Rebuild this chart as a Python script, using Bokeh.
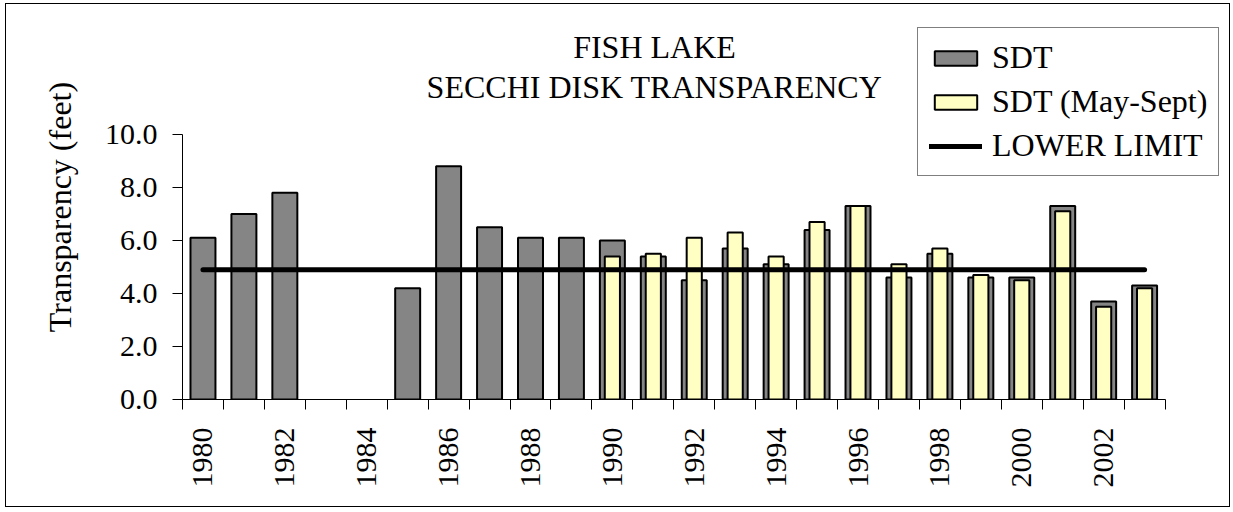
import numpy as np
from bokeh.plotting import figure
from bokeh.models import (ColumnDataSource, Range1d, FixedTicker, NumeralTickFormatter,
                          BasicTickFormatter, Legend, LegendItem, Label)
from bokeh.embed import file_html
from bokeh.resources import INLINE

# ---------------- data ----------------
years = list(range(1980, 2004))
sdt = [6.1, 7.0, 7.8, None, None, 4.2, 8.8, 6.5, 6.1, 6.1,
       6.0, 5.4, 4.5, 5.7, 5.1, 6.4, 7.3, 4.6, 5.5, 4.6,
       4.6, 7.3, 3.7, 4.3]
sdt_may_sept = [None, None, None, None, None, None, None, None, None, None,
                5.4, 5.5, 6.1, 6.3, 5.4, 6.7, 7.3, 5.1, 5.7, 4.7,
                4.5, 7.1, 3.5, 4.2]
lower_limit = 4.9
title_lines = ["FISH LAKE", "SECCHI DISK TRANSPARENCY"]
series_names = ["SDT", "SDT (May-Sept)", "LOWER LIMIT"]
y_axis_title = "Transparency (feet)"
y_ticks = [0, 2, 4, 6, 8, 10]
x_label_years = [y for y in years if y % 2 == 0]

FONT = "Liberation Serif"

# ---------------- layout (pixels) ----------------
W, H = 1225, 504
MB_LEFT, MB_RIGHT, MB_TOP, MB_BOTTOM = 176, 4, 10, 109
PX_PER_YEAR = 40.94
PX_PER_FOOT = 26.5
frame_w = W - MB_LEFT - MB_RIGHT
frame_h = H - MB_TOP - MB_BOTTOM
x0 = years[0] - 0.5
x_end = x0 + frame_w / PX_PER_YEAR
y_end = frame_h / PX_PER_FOOT

src_sdt = ColumnDataSource(dict(
    x=[y for y, v in zip(years, sdt) if v is not None],
    top=[v for v in sdt if v is not None]))
src_ms = ColumnDataSource(dict(
    x=[y for y, v in zip(years, sdt_may_sept) if v is not None],
    top=[v for v in sdt_may_sept if v is not None]))
src_ll = ColumnDataSource(dict(x=[years[0], years[-1]], y=[lower_limit, lower_limit]))

p = figure(width=W, height=H, output_backend="svg", toolbar_location=None,
           x_range=Range1d(x0, x_end), y_range=Range1d(0, y_end),
           min_border_left=MB_LEFT, min_border_right=MB_RIGHT, min_border_top=MB_TOP,
           min_border_bottom=MB_BOTTOM, background_fill_color="white",
           border_fill_color="white", outline_line_color=None)
p.styles = {"border": "1px solid black", "margin": "3px 0 0 5px"}

r_sdt = p.vbar(x="x", top="top", width=0.61, source=src_sdt, fill_color="#858585",
               line_color="black", line_width=2)
r_ms = p.vbar(x="x", top="top", width=0.37, source=src_ms, fill_color="#FFFFC4",
              line_color="black", line_width=2)
r_ll = p.line(x="x", y="y", source=src_ll, line_color="black", line_width=5,
              line_cap="round")

p.xgrid.visible = False
p.ygrid.visible = False

# x axis
boundaries = [y - 0.5 for y in years] + [years[-1] + 0.5]
p.xaxis.bounds = (boundaries[0], boundaries[-1])
p.xaxis.ticker = FixedTicker(ticks=x_label_years, minor_ticks=boundaries)
p.xaxis.formatter = BasicTickFormatter(use_scientific=False)
p.xaxis.major_label_orientation = np.pi / 2
p.xaxis.major_tick_out = 0
p.xaxis.major_tick_in = 0
p.xaxis.minor_tick_out = 10
p.xaxis.minor_tick_in = 0
p.xaxis.minor_tick_line_color = "black"
p.xaxis.axis_line_color = "black"
p.xaxis.major_label_standoff = 18
p.xaxis.major_label_text_font = FONT
p.xaxis.major_label_text_font_size = "30px"
p.xaxis.major_label_text_color = "black"

# y axis
p.yaxis.bounds = (y_ticks[0], y_ticks[-1])
p.yaxis.ticker = FixedTicker(ticks=y_ticks, minor_ticks=[])
p.yaxis.formatter = NumeralTickFormatter(format="0.0")
p.yaxis.major_tick_out = 10
p.yaxis.major_tick_in = 0
p.yaxis.minor_tick_out = 0
p.yaxis.minor_tick_in = 0
p.yaxis.major_tick_line_color = "black"
p.yaxis.axis_line_color = "black"
p.yaxis.major_label_standoff = 15
p.yaxis.major_label_text_font = FONT
p.yaxis.major_label_text_font_size = "30px"
p.yaxis.major_label_text_color = "black"
p.yaxis.axis_label = y_axis_title
p.yaxis.axis_label_text_font = FONT
p.yaxis.axis_label_text_font_size = "32px"
p.yaxis.axis_label_text_font_style = "normal"
p.yaxis.axis_label_text_color = "black"
p.yaxis.axis_label_standoff = 24

# titles (placed with the data scales so they sit above the plot area)
title_x = x0 + (654 - 182) / PX_PER_YEAR
p.add_layout(Label(x=title_x, y=(399 - 46) / PX_PER_FOOT, text=title_lines[0],
                   text_align="center", text_baseline="alphabetic", text_font=FONT,
                   text_font_size="32px", text_color="black"))
p.add_layout(Label(x=title_x, y=(399 - 86) / PX_PER_FOOT, text=title_lines[1],
                   text_align="center", text_baseline="alphabetic", text_font=FONT,
                   text_font_size="32px", text_color="black"))

legend = Legend(items=[LegendItem(label=series_names[0], renderers=[r_sdt]),
                       LegendItem(label=series_names[1], renderers=[r_ms]),
                       LegendItem(label=series_names[2], renderers=[r_ll])],
                location=(735, 223), label_text_font=FONT, label_text_font_size="32px",
                label_text_color="black", glyph_width=53, glyph_height=18,
                label_standoff=10, spacing=7, padding=11, margin=0,
                border_line_color="black", border_line_width=1,
                background_fill_color="white", background_fill_alpha=1.0)
p.add_layout(legend)

open("out.html", "w").write(file_html(p, INLINE))
